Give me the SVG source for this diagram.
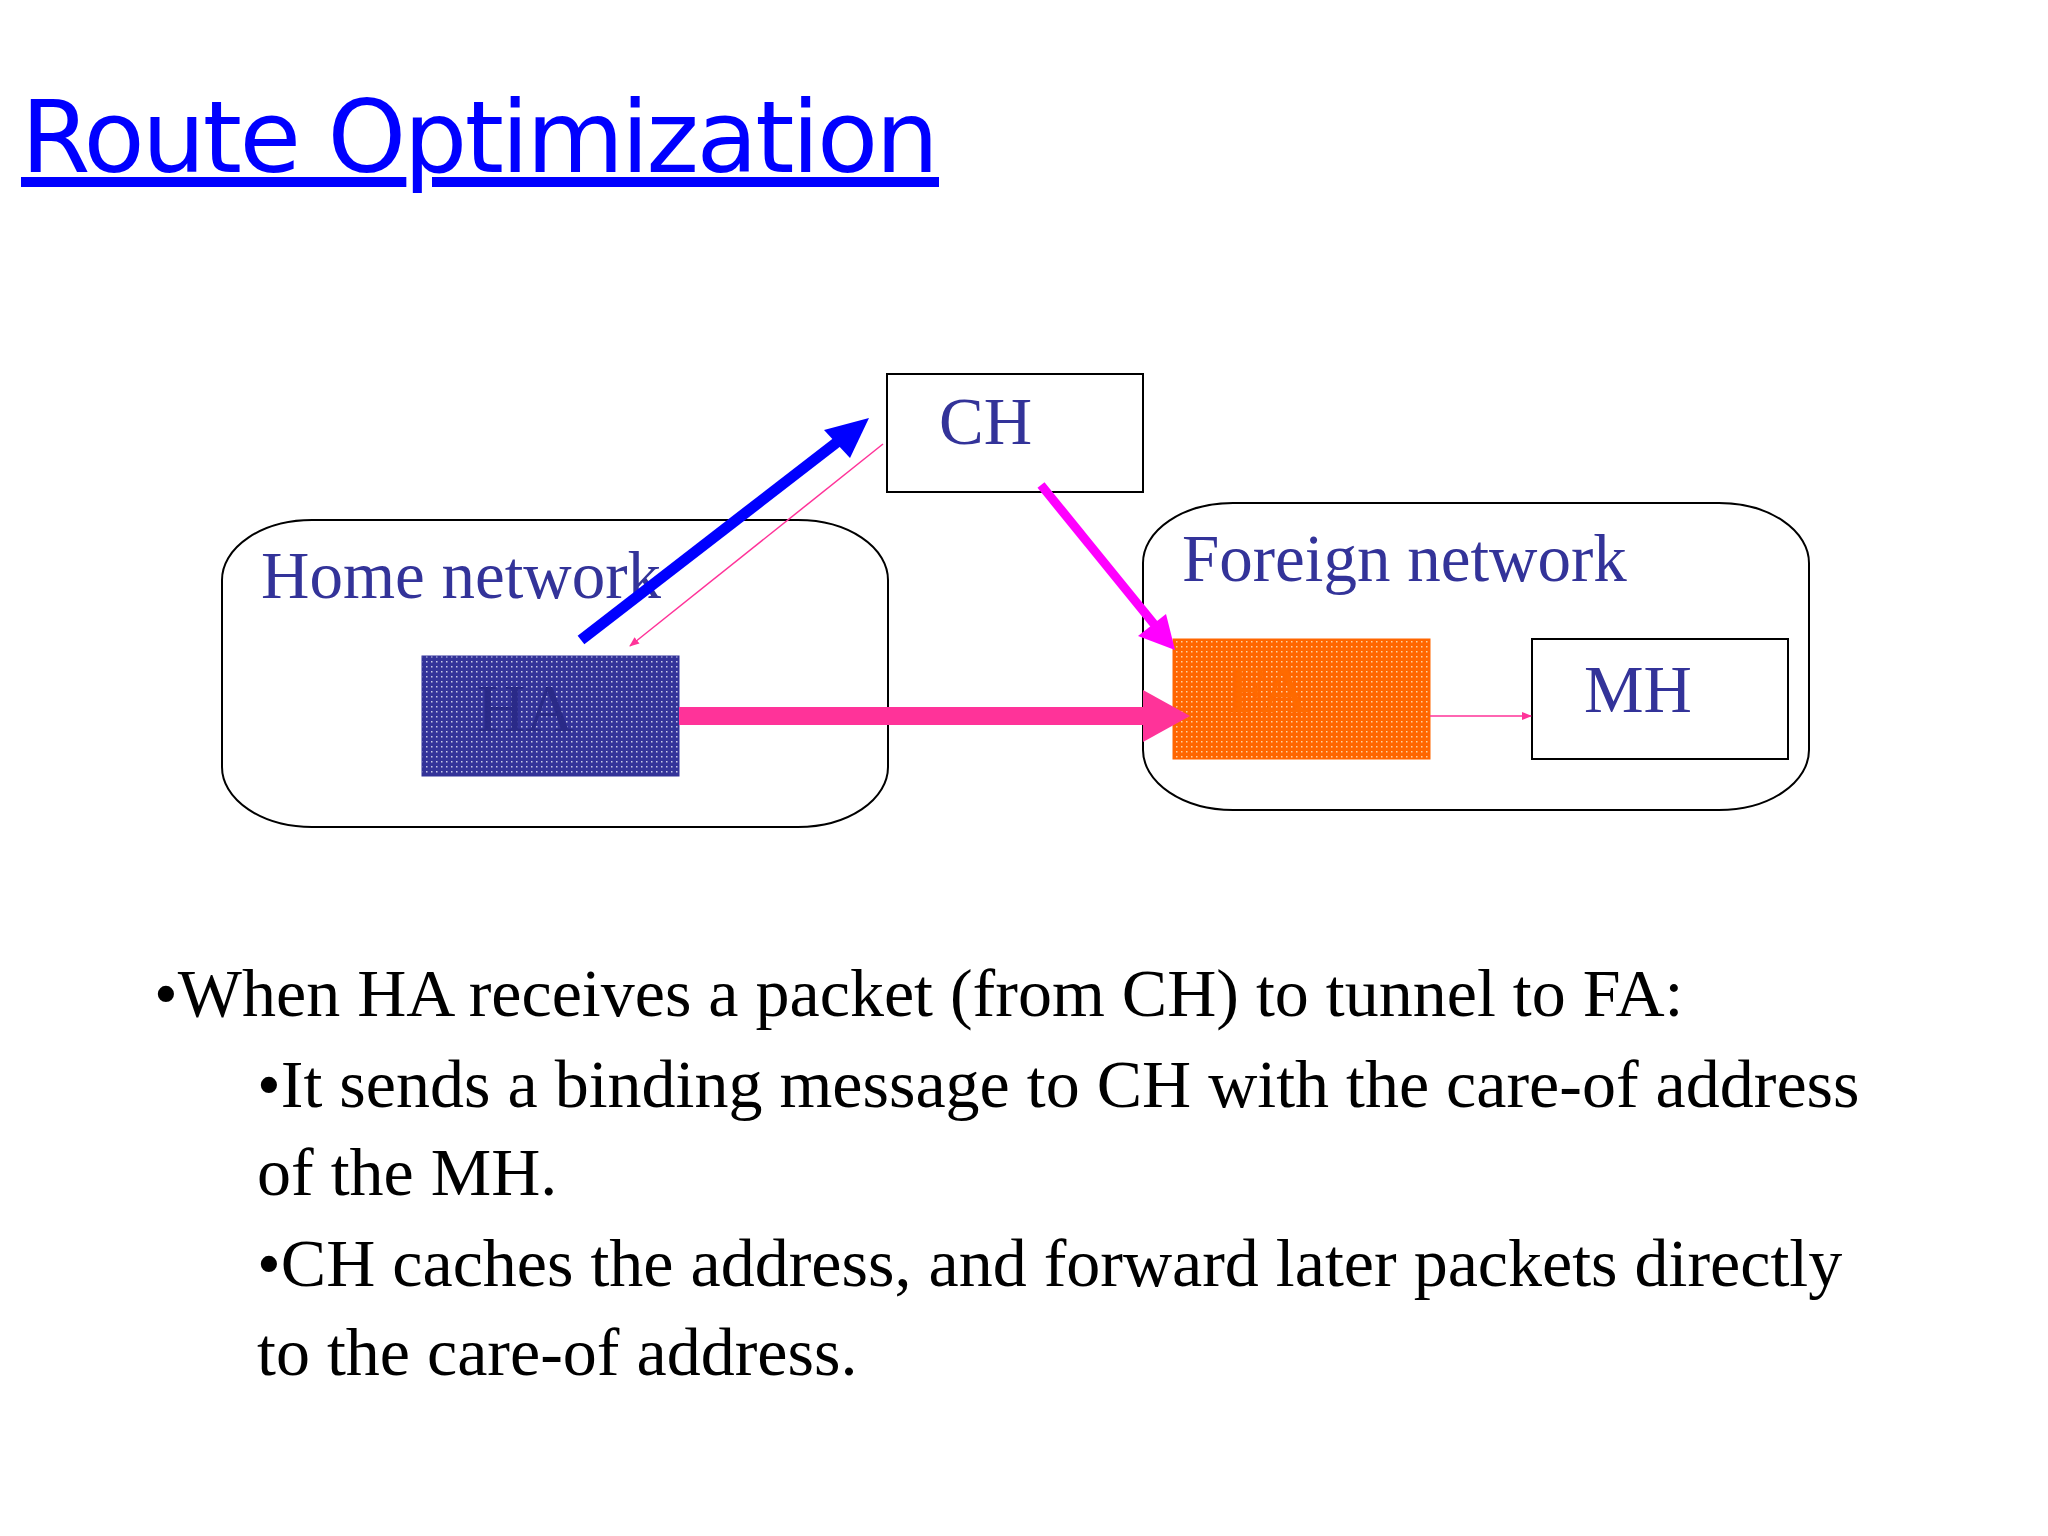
<svg xmlns="http://www.w3.org/2000/svg" width="2048" height="1536" viewBox="0 0 2048 1536">
<style>
.lbl{font-family:"Liberation Serif","Times New Roman",serif;font-size:67px;fill:#333399}
.body{font-family:"Liberation Serif","Times New Roman",serif;font-size:68px;fill:#000}
.box{fill:#fff;stroke:#000;stroke-width:2}
</style>
<defs>
<pattern id="pn" width="5" height="5" patternUnits="userSpaceOnUse"><rect width="5" height="5" fill="#333399"/><rect x="1" y="1" width="1.5" height="1.5" fill="#c8c8e8"/></pattern>
<pattern id="po" width="5" height="5" patternUnits="userSpaceOnUse"><rect width="5" height="5" fill="#ff6600"/><rect x="1" y="1" width="1.5" height="1.5" fill="#ffd0a0"/></pattern>
<marker id="mpk" markerWidth="10" markerHeight="8" refX="9" refY="4" orient="auto" markerUnits="userSpaceOnUse"><path d="M0,0 L10,4 L0,8 z" fill="#ff3399"/></marker>
</defs>
<rect width="2048" height="1536" fill="#fff"/>
<text x="21" y="172" font-family="'DejaVu Sans',sans-serif" font-size="100" fill="#0000ff" text-decoration="underline" textLength="918">Route Optimization</text>
<g id="home"><rect class="box" x="222" y="520" width="666" height="307" rx="90" ry="60"/><text class="lbl" x="261" y="598">Home network</text></g>
<g id="foreign"><rect class="box" x="1143" y="503" width="666" height="307" rx="90" ry="60"/><text class="lbl" x="1182" y="581">Foreign network</text></g>
<g id="CH"><rect class="box" x="887" y="374" width="256" height="118"/><text class="lbl" x="939" y="444">CH</text></g>
<g id="HA"><rect x="422" y="656" width="257" height="120" fill="url(#pn)" stroke="#333399"/><text class="lbl" x="477" y="731" style="fill:#2a2a88">HA</text></g>
<g id="FA"><rect x="1173" y="639" width="257" height="120" fill="url(#po)" stroke="#ff6600"/><text class="lbl" x="1228" y="712" style="fill:#ff6a00">FA</text></g>
<g id="MH"><rect class="box" x="1532" y="639" width="256" height="120"/><text class="lbl" x="1584" y="712">MH</text></g>
<g id="connectors">
<line x1="581" y1="640" x2="845" y2="436" stroke="#0000ff" stroke-width="11"/>
<polygon points="869,418 824,430 850,458" fill="#0000ff"/>
<line x1="883" y1="444" x2="630" y2="646" stroke="#ff3399" stroke-width="1.5" marker-end="url(#mpk)"/>
<line x1="1041" y1="485" x2="1158" y2="629" stroke="#ff00ff" stroke-width="9"/>
<polygon points="1175,650 1138,636 1166,614" fill="#ff00ff"/>
<rect x="679" y="707" width="466" height="18" fill="#ff3399"/>
<polygon points="1143,690 1190,716 1143,742" fill="#ff3399"/>
<line x1="1430" y1="716" x2="1531" y2="716" stroke="#ff3399" stroke-width="1.5" marker-end="url(#mpk)"/>
</g>
<text class="body" x="154" y="1016">•When HA receives a packet (from CH) to tunnel to FA:</text>
<text class="body" x="257" y="1107">•It sends a binding message to CH with the care-of address</text>
<text class="body" x="257" y="1195">of the MH.</text>
<text class="body" x="257" y="1286">•CH caches the address, and forward later packets directly</text>
<text class="body" x="257" y="1375">to the care-of address.</text>
</svg>
